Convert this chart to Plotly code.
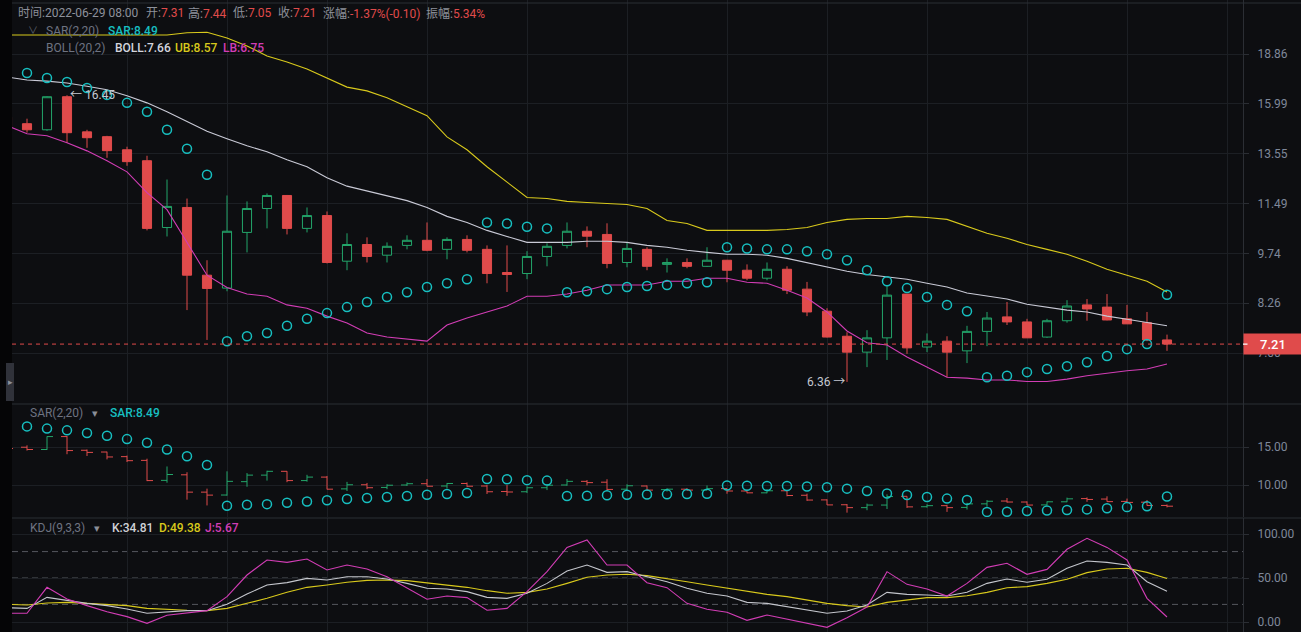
import math
import plotly.graph_objects as go

# ---------------- data ----------------
idx = list(range(-1, 58))

opens = [15.30, 14.97, 14.67, 16.37, 14.57, 14.34, 13.73, 13.24, 10.61, 11.34,
         9.06, 8.68, 10.44, 11.30, 11.80, 10.58, 11.04, 9.49, 10.03, 9.68,
         10.00, 10.17, 9.87, 10.20, 9.87, 9.14, 9.11, 9.64, 10.00, 10.48,
         10.37, 9.45, 9.87, 9.39, 9.45, 9.33, 9.52, 9.21, 8.97, 9.24,
         8.65, 8.04, 7.40, 7.02, 7.36, 8.51, 7.14, 7.28, 7.05, 7.52,
         7.89, 7.76, 7.38, 7.79, 8.21, 8.15, 7.84, 7.74, 7.31]
highs = [15.50, 15.22, 16.40, 16.45, 14.67, 14.38, 13.87, 13.46, 12.44, 11.68,
         9.52, 11.80, 11.57, 11.88, 11.82, 11.34, 11.19, 10.41, 10.27, 10.10,
         10.34, 10.79, 10.27, 10.34, 10.00, 10.00, 9.81, 10.07, 10.79, 10.65,
         10.76, 10.10, 9.94, 9.58, 9.58, 9.94, 9.53, 9.39, 9.45, 9.33,
         8.86, 8.12, 7.50, 7.55, 8.77, 8.51, 7.47, 7.40, 7.66, 8.02,
         8.29, 7.84, 7.84, 8.34, 8.37, 8.51, 8.21, 8.02, 7.44]
lows = [14.70, 14.53, 14.62, 14.05, 13.82, 13.37, 13.02, 10.51, 10.30, 8.07,
        7.31, 8.59, 9.77, 10.58, 10.37, 10.44, 9.42, 9.21, 9.45, 9.45,
        9.87, 9.81, 9.55, 9.77, 8.82, 8.57, 8.94, 9.33, 9.90, 9.94,
        9.27, 9.30, 9.21, 9.14, 9.27, 9.31, 8.85, 8.91, 8.91, 8.51,
        7.91, 7.37, 6.36, 6.68, 6.84, 6.98, 7.02, 6.46, 6.77, 7.16,
        7.68, 7.36, 7.36, 7.74, 7.79, 7.80, 7.71, 7.28, 7.05]
closes = [14.80, 14.67, 16.37, 14.53, 14.29, 13.69, 13.20, 10.58, 11.38, 9.06,
          8.67, 10.48, 11.30, 11.80, 10.58, 11.04, 9.45, 10.03, 9.64, 9.97,
          10.17, 9.84, 10.20, 9.84, 9.11, 9.08, 9.64, 9.97, 10.48, 10.31,
          9.42, 9.90, 9.33, 9.45, 9.33, 9.52, 9.21, 8.97, 9.24, 8.62,
          8.02, 7.38, 7.02, 7.36, 8.48, 7.12, 7.28, 7.02, 7.52, 7.86,
          7.76, 7.36, 7.79, 8.18, 8.10, 7.81, 7.71, 7.31, 7.21]

sar = [None, 17.71, 17.42, 17.19, 16.85, 16.47, 16.04, 15.57, 14.67, 13.78,
       12.64, 7.28, 7.40, 7.48, 7.66, 7.84, 7.99, 8.15, 8.29, 8.43,
       8.56, 8.71, 8.82, 8.94, 10.79, 10.75, 10.64, 10.58, 8.56, 8.59,
       8.65, 8.71, 8.74, 8.77, 8.82, 8.85, 9.94, 9.90, 9.87, 9.87,
       9.81, 9.71, 9.52, 9.21, 8.88, 8.68, 8.43, 8.21, 8.04, 6.46,
       6.49, 6.57, 6.64, 6.70, 6.79, 6.93, 7.09, 7.21, 8.49]

boll_mb = [17.48, 17.30, 17.24, 17.13, 16.95, 16.75, 16.42, 16.04, 15.57, 15.06,
           14.60, 14.24, 13.91, 13.64, 13.28, 12.98, 12.51, 12.17, 11.97, 11.80,
           11.60, 11.34, 11.01, 10.79, 10.51, 10.30, 10.10, 10.10, 10.10, 10.14,
           10.14, 10.10, 10.00, 9.94, 9.84, 9.77, 9.71, 9.71, 9.68, 9.58,
           9.45, 9.33, 9.18, 9.08, 9.02, 8.94, 8.82, 8.71, 8.54, 8.45,
           8.37, 8.23, 8.15, 8.07, 8.02, 7.91, 7.83, 7.74, 7.66]
boll_ub = [20.09, 20.09, 20.10, 20.09, 20.09, 20.09, 20.09, 20.09, 20.09, 20.24,
           20.27, 19.89, 19.37, 18.74, 18.37, 17.95, 17.42, 16.90, 16.69, 16.31,
           15.83, 15.37, 14.33, 13.73, 12.98, 12.33, 11.72, 11.68, 11.57, 11.53,
           11.49, 11.45, 11.30, 10.86, 10.75, 10.51, 10.51, 10.51, 10.51, 10.54,
           10.61, 10.79, 10.90, 10.93, 10.93, 11.01, 10.97, 10.90, 10.64, 10.41,
           10.24, 10.03, 9.87, 9.71, 9.49, 9.24, 9.06, 8.88, 8.57]
boll_lb = [14.87, 14.48, 14.38, 14.05, 13.68, 13.24, 12.76, 11.91, 11.26, 10.10,
           9.06, 8.70, 8.51, 8.45, 8.21, 8.12, 7.91, 7.73, 7.48, 7.38,
           7.33, 7.28, 7.68, 7.86, 8.02, 8.18, 8.45, 8.45, 8.51, 8.62,
           8.77, 8.77, 8.77, 8.88, 8.88, 8.97, 8.97, 8.85, 8.82, 8.62,
           8.40, 8.02, 7.53, 7.24, 7.19, 6.91, 6.68, 6.46, 6.44, 6.40,
           6.40, 6.37, 6.37, 6.42, 6.49, 6.55, 6.60, 6.64, 6.75]

kdj_k = [16.3, 15.5, 28.0, 24.2, 21.2, 18.6, 14.8, 9.9, 11.7, 12.9,
         12.9, 20.1, 31.8, 42.0, 44.7, 49.6, 47.7, 51.5, 51.5, 48.9,
         43.9, 38.3, 37.5, 34.5, 28.0, 26.9, 32.6, 43.9, 57.9, 64.8,
         56.4, 57.2, 51.5, 45.8, 38.3, 32.6, 29.5, 22.3, 21.2, 17.4,
         13.6, 9.9, 12.5, 19.3, 33.7, 31.4, 30.7, 29.5, 33.7, 43.9,
         48.9, 45.1, 48.5, 61.0, 69.3, 67.8, 64.8, 45.8, 34.81]
kdj_d = [20.1, 19.3, 21.6, 22.3, 21.2, 20.1, 18.6, 15.5, 14.0, 13.3,
         12.9, 15.5, 21.2, 26.9, 33.7, 39.4, 42.0, 45.1, 47.3, 47.7,
         47.0, 44.7, 42.0, 39.4, 35.6, 32.6, 33.7, 37.5, 43.9, 50.8,
         53.4, 54.2, 52.7, 49.6, 45.8, 42.0, 38.3, 34.5, 31.4, 28.8,
         25.0, 21.2, 18.6, 17.0, 22.3, 25.4, 27.7, 27.7, 29.9, 33.7,
         39.0, 40.2, 43.9, 48.5, 56.1, 60.2, 61.0, 56.4, 49.38]
kdj_j = [9.9, 9.9, 39.4, 26.1, 18.6, 11.7, 6.1, -1.5, 7.6, 9.9,
         12.9, 28.8, 53.4, 70.5, 67.8, 71.6, 59.1, 64.8, 60.2, 51.5,
         39.0, 25.8, 29.5, 27.7, 13.3, 15.5, 34.5, 57.2, 84.8, 93.2,
         64.8, 64.8, 44.7, 39.0, 21.2, 14.4, 11.0, 1.9, 7.9, 3.4,
         -1.5, -6.1, 4.9, 17.0, 57.2, 42.8, 37.5, 29.5, 43.9, 62.1,
         66.7, 54.2, 59.8, 82.6, 95.1, 84.8, 70.5, 26.9, 5.67]
kdj_levels = [20, 50, 80]

price_ticks = [7.00, 8.26, 9.74, 11.49, 13.55, 15.99, 18.86]
sar_ticks = [10.00, 15.00]
kdj_ticks = [0.00, 50.00, 100.00]
grid_x = [5, 10, 15, 20, 25, 30, 35, 40, 45, 50, 55, 60]
time_label = "2022-06-29 08:00"

# ---------------- style ----------------
W, H = 1301, 632
ML, MR = 12, 58
PW = W - ML - MR
BG = "#0d0e11"
GRID = "#1c1f24"
AXIS = "#2b2e34"
RED = "#e04b4b"
GREEN = "#23a56a"
CYAN = "#17bfc0"
WHITE_L = "#c9cad6"
YELLOW = "#d8c91c"
MAGENTA = "#d23db5"
GRAY = "#6e7381"
TICK = "#7f889a"
FONT = "Roboto, 'Noto Sans CJK SC', sans-serif"

XR = [-0.75, 60.8]


def pxx(px):
    return (px - ML) / PW


def pxy(py):
    return 1 - py / H


fig = go.Figure()

# ---- main panel ----
fig.add_trace(go.Candlestick(
    x=idx, open=opens, high=highs, low=lows, close=closes,
    increasing=dict(line=dict(color=GREEN, width=1), fillcolor=BG),
    decreasing=dict(line=dict(color=RED, width=1), fillcolor=RED),
    whiskerwidth=0, xaxis="x", yaxis="y", hoverinfo="skip"))
for series, col in [(boll_ub, YELLOW), (boll_mb, WHITE_L), (boll_lb, MAGENTA)]:
    fig.add_trace(go.Scatter(x=idx, y=series, mode="lines",
                             line=dict(color=col, width=1.1),
                             xaxis="x", yaxis="y", hoverinfo="skip"))
fig.add_trace(go.Scatter(x=idx, y=sar, mode="markers",
                         marker=dict(symbol="circle-open", size=9, color=CYAN,
                                     line=dict(width=1.5, color=CYAN)),
                         xaxis="x", yaxis="y", hoverinfo="skip"))
fig.add_trace(go.Scatter(x=XR, y=[closes[-1], closes[-1]], mode="lines",
                         line=dict(color=RED, width=1, dash="4px,4px"),
                         xaxis="x", yaxis="y", hoverinfo="skip"))

# ---- SAR panel ----
fig.add_trace(go.Ohlc(
    x=idx, open=opens, high=highs, low=lows, close=closes,
    increasing=dict(line=dict(color=GREEN, width=1)),
    decreasing=dict(line=dict(color=RED, width=1)),
    tickwidth=0.3, xaxis="x2", yaxis="y2", hoverinfo="skip"))
fig.add_trace(go.Scatter(x=idx, y=sar, mode="markers",
                         marker=dict(symbol="circle-open", size=9, color=CYAN,
                                     line=dict(width=1.5, color=CYAN)),
                         xaxis="x2", yaxis="y2", hoverinfo="skip"))

# ---- KDJ panel ----
for series, col in [(kdj_d, YELLOW), (kdj_k, "#c4c6cc"), (kdj_j, MAGENTA)]:
    fig.add_trace(go.Scatter(x=idx, y=series, mode="lines",
                             line=dict(color=col, width=1.1),
                             xaxis="x3", yaxis="y3", hoverinfo="skip"))

# ---------------- axes ----------------
main_top, main_bot = 0, 404
sar_top, sar_bot = 404, 517
kdj_top, kdj_bot = 518, 632

xcommon = dict(range=XR, tickvals=grid_x, showticklabels=False, ticks="",
               showgrid=True, gridcolor=GRID, gridwidth=1, zeroline=False,
               showline=False, rangeslider=dict(visible=False), fixedrange=True)
ycommon = dict(side="right", showgrid=True, gridcolor=GRID, gridwidth=1,
               zeroline=False, showline=True, linecolor=AXIS, linewidth=1,
               ticks="outside", ticklen=5, tickcolor=AXIS,
               tickfont=dict(family=FONT, size=12, color=TICK),
               ticklabelstandoff=6, fixedrange=True)

# log range so that 18.86 sits at y=54 and 7.00 at y=353
l_hi, l_lo = math.log10(18.86), math.log10(7.00)
ppx = (353 - 54) / (l_hi - l_lo)
main_range = [l_hi - (main_bot - 54) / ppx, l_hi + (54 - main_top) / ppx]

sar_ppu = (485 - 447) / 5.0
sar_range = [10 - (sar_bot - 485) / sar_ppu, 15 + (447 - sar_top) / sar_ppu]
kdj_ppu = (622 - 534) / 100.0
kdj_range = [0 - (kdj_bot - 622) / kdj_ppu, 100 + (534 - kdj_top) / kdj_ppu]

fig.update_layout(
    width=W, height=H, margin=dict(l=ML, r=MR, t=0, b=0),
    paper_bgcolor=BG, plot_bgcolor=BG, showlegend=False, hovermode=False,
    boxgap=0.35, dragmode=False,
    xaxis=dict(domain=[0, 1], anchor="y", **xcommon),
    xaxis2=dict(domain=[0, 1], anchor="y2", **xcommon),
    xaxis3=dict(domain=[0, 1], anchor="y3", **xcommon),
    yaxis=dict(domain=[pxy(main_bot), pxy(main_top)], anchor="x", type="log",
               range=main_range, tickvals=price_ticks,
               ticktext=[f"{v:.2f}" for v in price_ticks], **ycommon),
    yaxis2=dict(domain=[pxy(sar_bot), pxy(sar_top)], anchor="x2",
                range=sar_range, tickvals=sar_ticks,
                ticktext=[f"{v:.2f}" for v in sar_ticks], **ycommon),
    yaxis3=dict(domain=[pxy(kdj_bot), pxy(kdj_top)], anchor="x3",
                range=kdj_range, tickvals=kdj_ticks,
                ticktext=[f"{v:.2f}" for v in kdj_ticks], **ycommon),
)

# ---------------- shapes ----------------
shapes = []
for lv in kdj_levels:
    shapes.append(dict(type="line", xref="x3 domain", x0=0, x1=1, yref="y3",
                       y0=lv, y1=lv, line=dict(color="#55585f", width=1, dash="6px,4px"),
                       layer="below"))
# panel separators / borders
for py in [3, 404, 518]:
    shapes.append(dict(type="line", xref="paper", yref="paper", x0=pxx(12), x1=pxx(W),
                       y0=pxy(py), y1=pxy(py), line=dict(color=AXIS, width=1),
                       layer="above"))
# left dark strip and its tab
shapes.append(dict(type="rect", xref="paper", yref="paper", x0=pxx(0), x1=pxx(12),
                   y0=0, y1=1, fillcolor="#050506", line=dict(width=0), layer="above"))
shapes.append(dict(type="rect", xref="paper", yref="paper", x0=pxx(6), x1=pxx(14),
                   y0=pxy(401), y1=pxy(363), fillcolor="#30323a", line=dict(width=0),
                   layer="above"))
fig.update_layout(shapes=shapes)

# ---------------- annotations ----------------
ann = []


def lab(px, py, text, color=GRAY, size=12, weight=None):
    f = dict(family=FONT, size=size, color=color)
    if weight:
        f["weight"] = weight
    ann.append(dict(xref="paper", yref="paper", x=pxx(px), y=pxy(py), text=text,
                    showarrow=False, xanchor="left", yanchor="middle",
                    font=f, borderpad=0))


def red(v):
    return f"<span style='color:{RED}'>{v}</span>"


o, h, l, c = opens[-1], highs[-1], lows[-1], closes[-1]
prev = closes[-2]
chg = c - prev
pct = chg / prev * 100
amp = (h - l) / prev * 100
HG = "#8d919b"
lab(17, 13, f"时间:{time_label}", HG)
lab(145, 13, "开:" + red(f"{o:.2f}"), HG)
lab(187, 13, "高:" + red(f"{h:.2f}"), HG)
lab(232, 13, "低:" + red(f"{l:.2f}"), HG)
lab(277, 13, "收:" + red(f"{c:.2f}"), HG)
lab(322, 13, "涨幅:" + red(f"{pct:.2f}%({chg:.2f})"), HG)
lab(425, 13, "振幅:" + red(f"{amp:.2f}%"), HG)

lab(27, 30, "∨", "#5c606b", 10)
lab(45, 31, "SAR(2,20)", GRAY)
lab(107, 31, f"SAR:{sar[-1]:.2f}", CYAN, 12, 500)
lab(45, 48, "BOLL(20,2)", GRAY)
lab(114, 48, f"BOLL:{boll_mb[-1]:.2f}", "#d3d5de", 12, 500)
lab(174, 48, f"UB:{boll_ub[-1]:.2f}", YELLOW, 12, 500)
lab(222, 48, f"LB:{boll_lb[-1]:.2f}", MAGENTA, 12, 500)

lab(29, 413, "SAR(2,20)", GRAY)
lab(91, 413, "▾", "#8a8e98", 11)
lab(109, 413, f"SAR:{sar[-1]:.2f}", CYAN, 12, 500)

lab(29, 528, "KDJ(9,3,3)", GRAY)
lab(93, 528, "▾", "#8a8e98", 11)
lab(111, 528, f"K:{kdj_k[-1]:.2f}", "#d0d2d8", 12, 500)
lab(158, 528, f"D:{kdj_d[-1]:.2f}", YELLOW, 12, 500)
lab(204, 528, f"J:{kdj_j[-1]:.2f}", MAGENTA, 12, 500)

lab(7, 382, "▸", "#8c909a", 9)

# max / min markers on the price panel
imax = max(range(len(highs)), key=lambda k: highs[k])
imin = min(range(len(lows)), key=lambda k: lows[k])
ann.append(dict(xref="x", yref="y", x=idx[imax], y=math.log10(highs[imax]),
                text=f"← {highs[imax]:.2f}", showarrow=False, xanchor="left",
                yanchor="middle", xshift=2, borderpad=0,
                font=dict(family=FONT, size=12, color="#c5c9d1")))
ann.append(dict(xref="x", yref="y", x=idx[imin], y=math.log10(lows[imin]),
                text=f"{lows[imin]:.2f} →", showarrow=False, xanchor="right",
                yanchor="middle", xshift=-1, borderpad=0,
                font=dict(family=FONT, size=12, color="#c5c9d1")))

# last price tag
ann.append(dict(xref="paper", yref="y", x=1, y=math.log10(c), text=f"{c:.2f}",
                showarrow=False, xanchor="left", yanchor="middle", width=MR,
                height=20, bgcolor=RED, borderpad=0, align="center",
                font=dict(family=FONT, size=13, color="#ffffff", weight=500)))
ann.append(dict(xref="paper", yref="y", x=1, y=math.log10(c), text="",
                showarrow=True, arrowhead=0, arrowwidth=1.2, arrowcolor="#ffffff",
                ax=6, ay=0, axref="pixel", ayref="pixel", standoff=0, startstandoff=0))

fig.update_layout(annotations=ann)

fig.write_html(
    "out.html",
    config={"displayModeBar": False, "staticPlot": True},
    post_script="document.body.style.margin='0';"
                "document.documentElement.style.overflow='hidden';"
                "document.body.style.overflow='hidden';",
)
